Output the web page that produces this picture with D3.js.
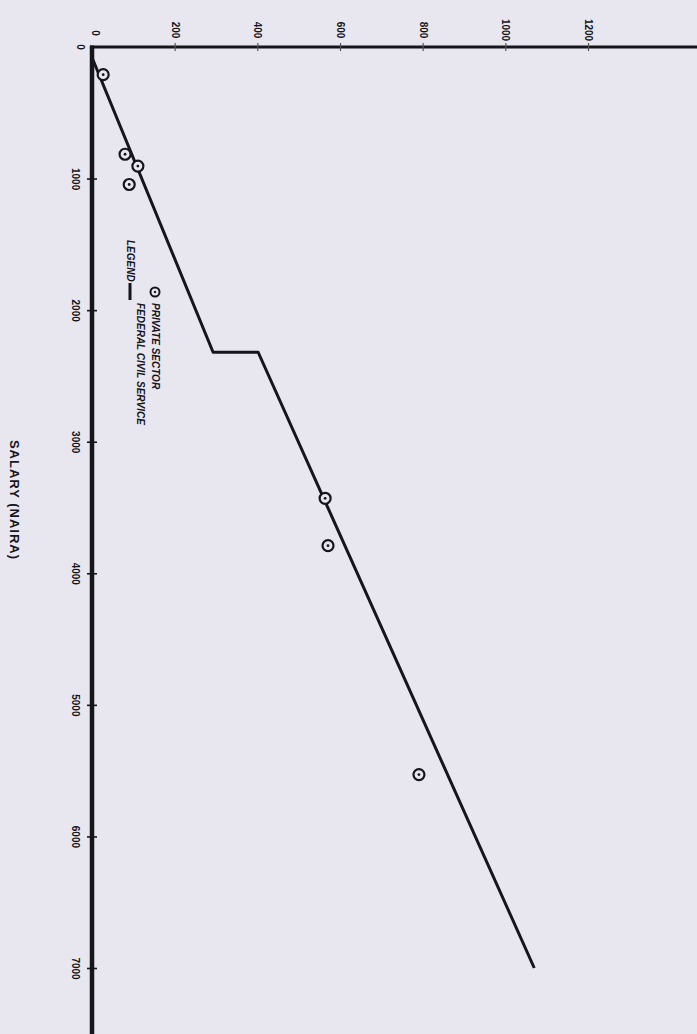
<!DOCTYPE html>
<html><head><meta charset="utf-8">
<script src="https://cdn.jsdelivr.net/npm/d3@7/dist/d3.min.js"></script>
<style>html,body{margin:0;padding:0;background:#e8e6ee;}svg{display:block;}</style>
</head><body>
<svg id="c" width="697" height="1034"></svg>
<script>
// Data
const pensionTicks = [200, 400, 600, 800, 1000, 1200];
const salaryTicks = [1000, 2000, 3000, 4000, 5000, 6000, 7000];
const federalSalary = [80, 2320, 2320, 7000];
const federalPension = [0, 293, 402, 1070];
const privateSalary = [210, 815, 905, 1045, 3430, 3790, 5530];
const privatePension = [27, 80, 111, 90, 564, 571, 791];
const legendLabels = ["FEDERAL CIVIL SERVICE", "PRIVATE SECTOR"];

const svg = d3.select("#c");
svg.append("rect").attr("width",697).attr("height",1034).attr("fill","#e8e6ee");

// rotated page: pension runs left->right along top, salary runs top->bottom
const px = d3.scaleLinear().domain([0,1200]).range([92,588]);
const sy = d3.scaleLinear().domain([0,7000]).range([47,968]);
const ink = "#15151c";
const font = "'Liberation Sans', Arial, sans-serif";

// axes lines
svg.append("line").attr("x1",90).attr("x2",697).attr("y1",sy(0)).attr("y2",sy(0))
  .attr("stroke",ink).attr("stroke-width",3);
svg.append("line").attr("x1",px(0)).attr("x2",px(0)).attr("y1",sy(0)-1.5).attr("y2",1034)
  .attr("stroke",ink).attr("stroke-width",4.5);

// top axis (pension)
const topAxis = svg.append("g").attr("transform",`translate(0,${sy(0)})`)
  .call(d3.axisTop(px).tickValues(pensionTicks).tickSize(4).tickFormat(d3.format("d")));
topAxis.select(".domain").remove();
topAxis.selectAll(".tick line").attr("y1",-4).attr("y2",4).attr("stroke","#555").attr("stroke-width",1.2);
topAxis.selectAll(".tick text").attr("transform","translate(0,-17) rotate(90)")
  .attr("x",0).attr("y",0).attr("dy","0.35em").attr("text-anchor","middle")
  .attr("font-family",font).attr("font-weight","bold").attr("font-size",10).attr("fill",ink);

// left axis (salary)
const leftAxis = svg.append("g").attr("transform",`translate(${px(0)},0)`)
  .call(d3.axisLeft(sy).tickValues(salaryTicks).tickSize(5).tickFormat(d3.format("d")));
leftAxis.select(".domain").remove();
leftAxis.selectAll(".tick line").attr("x1",-5).attr("x2",5).attr("stroke",ink).attr("stroke-width",1.6);
leftAxis.selectAll(".tick text").attr("transform","translate(-17,0) rotate(90)")
  .attr("x",0).attr("y",0).attr("dy","0.35em").attr("text-anchor","middle")
  .attr("font-family",font).attr("font-weight","bold").attr("font-size",10).attr("fill",ink);

// zero labels
svg.append("text").attr("transform",`translate(80,${sy(0)}) rotate(90)`).attr("text-anchor","middle")
  .attr("dy","0.35em").attr("font-family",font).attr("font-weight","bold").attr("font-size",10).attr("fill",ink).text("0");
svg.append("text").attr("transform",`translate(${px(0)+3},33) rotate(90)`).attr("text-anchor","middle")
  .attr("dy","0.35em").attr("font-family",font).attr("font-weight","bold").attr("font-size",10).attr("fill",ink).text("0");

// axis title
svg.append("text").attr("transform","translate(15,500) rotate(90)").attr("text-anchor","middle")
  .attr("dy","0.35em").attr("font-family",font).attr("font-weight","bold").attr("font-size",13)
  .attr("letter-spacing",1).attr("fill",ink).text("SALARY (NAIRA)");

// federal line
const fed = federalSalary.map((s,i)=>[s,federalPension[i]]);
svg.append("path").datum(fed)
  .attr("d", d3.line().x(d=>px(d[1])).y(d=>sy(d[0])))
  .attr("fill","none").attr("stroke",ink).attr("stroke-width",3).attr("stroke-linejoin","round");

// private points
const priv = privateSalary.map((s,i)=>[s,privatePension[i]]);
const pg = svg.append("g");
pg.selectAll("circle.o").data(priv).join("circle")
  .attr("cx",d=>px(d[1])).attr("cy",d=>sy(d[0])).attr("r",5.5)
  .attr("fill","#e8e6ee").attr("stroke",ink).attr("stroke-width",2.2);
pg.selectAll("circle.i").data(priv).join("circle")
  .attr("cx",d=>px(d[1])).attr("cy",d=>sy(d[0])).attr("r",1.4).attr("fill",ink);

// legend
const lg = svg.append("g");
lg.append("text").attr("transform","translate(130,240) rotate(90)").attr("dy","0.35em")
  .attr("font-family",font).attr("font-weight","bold").attr("font-style","italic").attr("font-size",10).attr("fill",ink).text("LEGEND");
lg.append("line").attr("x1",130).attr("x2",130).attr("y1",283).attr("y2",300).attr("stroke",ink).attr("stroke-width",3);
lg.append("text").attr("transform","translate(140,303) rotate(90)").attr("dy","0.35em")
  .attr("font-family",font).attr("font-weight","bold").attr("font-style","italic").attr("font-size",10).attr("fill",ink).text(legendLabels[0]);
lg.append("circle").attr("cx",155).attr("cy",292).attr("r",4.5).attr("fill","#e8e6ee").attr("stroke",ink).attr("stroke-width",2);
lg.append("circle").attr("cx",155).attr("cy",292).attr("r",1.2).attr("fill",ink);
lg.append("text").attr("transform","translate(155,303) rotate(90)").attr("dy","0.35em")
  .attr("font-family",font).attr("font-weight","bold").attr("font-style","italic").attr("font-size",10).attr("fill",ink).text(legendLabels[1]);
</script>
</body></html>
